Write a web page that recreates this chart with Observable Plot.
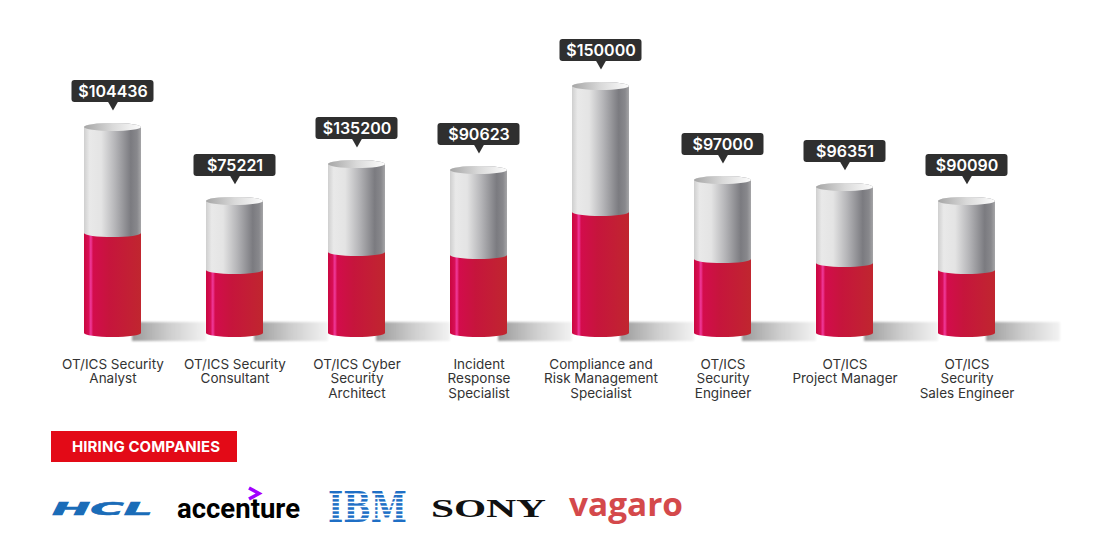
<!DOCTYPE html>
<html>
<head>
<meta charset="utf-8">
<script src="https://cdn.jsdelivr.net/npm/d3@7"></script>
<script src="https://cdn.jsdelivr.net/npm/@observablehq/plot@0.6"></script>
<style>
  html, body { margin: 0; padding: 0; background: #fff; }
  body { width: 1100px; height: 560px; overflow: hidden; position: relative; font-family: Inter, "Open Sans", sans-serif; }
  #chart { position: absolute; left: 0; top: 0; }
  #hiring { position: absolute; left: 51px; top: 431px; width: 186px; height: 31px; background: #e30a17;
            color: #fff; font: 700 15px Inter, "Open Sans", sans-serif; display: flex; align-items: center;
            padding-left: 21px; box-sizing: border-box; letter-spacing: 0.1px; }
  #logos { position: absolute; left: 0; top: 470px; }
</style>
</head>
<body>
<div id="chart"></div>
<div id="hiring">HIRING COMPANIES</div>
<svg id="logos" width="1100" height="70" viewBox="0 470 1100 70">
  <text x="52" y="515" font-family="DejaVu Sans" font-weight="bold" font-style="italic" font-size="18" fill="#1a6cb8" stroke="#1a6cb8" stroke-width="0.6" textLength="101" lengthAdjust="spacingAndGlyphs">HCL</text>
  <text x="177" y="518" font-family="Roboto" font-weight="700" font-size="28" fill="#000" textLength="123" lengthAdjust="spacingAndGlyphs">accenture</text>
  <polyline points="249,488 259,493.5 249,499" fill="none" stroke="#a100ff" stroke-width="3.5"/>
  <text x="328" y="522" font-family="DejaVu Serif" font-weight="bold" font-size="42" fill="#1f6fc5" textLength="79" lengthAdjust="spacingAndGlyphs">IBM</text>
  <g fill="#fff">
    <rect x="324" y="493.5" width="90" height="1.5"/>
    <rect x="324" y="497.6" width="90" height="1.5"/>
    <rect x="324" y="501.6" width="90" height="1.5"/>
    <rect x="324" y="505.7" width="90" height="1.5"/>
    <rect x="324" y="509.8" width="90" height="1.5"/>
    <rect x="324" y="513.9" width="90" height="1.5"/>
    <rect x="324" y="517.9" width="90" height="1.5"/>
  </g>
  <text x="431" y="517" font-family="Liberation Serif" font-weight="bold" font-size="26" fill="#111" textLength="115" lengthAdjust="spacingAndGlyphs">SONY</text>
  <text x="569" y="516" font-family="Open Sans" font-weight="700" font-size="32" fill="#d4494b" textLength="114" lengthAdjust="spacingAndGlyphs">vagaro</text>
</svg>
<script>
// ---- data ----
const roles = [
  "OT/ICS Security Analyst",
  "OT/ICS Security Consultant",
  "OT/ICS Cyber Security Architect",
  "Incident Response Specialist",
  "Compliance and Risk Management Specialist",
  "OT/ICS Security Engineer",
  "OT/ICS Project Manager",
  "OT/ICS Security Sales Engineer"
];
const roleLabels = [
  "OT/ICS Security\nAnalyst",
  "OT/ICS Security\nConsultant",
  "OT/ICS Cyber\nSecurity\nArchitect",
  "Incident\nResponse\nSpecialist",
  "Compliance and\nRisk Management\nSpecialist",
  "OT/ICS\nSecurity\nEngineer",
  "OT/ICS\nProject Manager",
  "OT/ICS\nSecurity\nSales Engineer"
];
const salaries = [104436, 75221, 135200, 90623, 150000, 97000, 96351, 90090];
// drawn cylinder height and red fill level, as shown in the picture (same $ scale)
const cylinderLevel = [125100, 80200, 102600, 99000, 150000, 92900, 88700, 80200];
const redLevel = [60700, 38300, 49200, 47400, 73500, 44900, 42500, 38300];

const data = roles.map((role, i) => ({
  role, label: roleLabels[i], salary: salaries[i], level: cylinderLevel[i], red: redLevel[i]
}));

const R = 28.5;
const font = 'Inter, "Open Sans", sans-serif';

const plot = Plot.plot({
  width: 1100,
  height: 420,
  marginLeft: 83,
  marginRight: 104,
  marginTop: 86,
  marginBottom: 87,
  style: { fontFamily: font, background: "#fff", overflow: "visible" },
  x: { type: "band", domain: roles, paddingInner: 0.534, paddingOuter: 0, axis: null },
  y: { domain: [0, 150000], axis: null },
  marks: [
    // floor shadow
    Plot.barY(data, { x: "role", y1: 0, y2: 0, dx: 48, insetRight: -17, insetTop: -11, insetBottom: -8, fill: "url(#shadowGrad)" }),
    // red lower body
    Plot.barY(data, { x: "role", y1: 0, y2: "red", insetTop: -4, insetBottom: -4, rx: R, ry: 4, fill: "url(#redGrad)" }),
    // grey upper body
    Plot.barY(data, { x: "role", y1: "red", y2: "level", insetTop: -4, insetBottom: -4, rx: R, ry: 4, fill: "url(#greyGrad)" }),
    // top cap
    Plot.barY(data, { x: "role", y1: "level", y2: "level", insetTop: -4, insetBottom: -4, rx: R, ry: 4, fill: "url(#capGrad)" }),
    // value bubbles
    Plot.barY(data, { x: "role", y1: "level", y2: "level", insetTop: -47, insetBottom: 25, insetLeft: -12.5, insetRight: -12.5, rx: 3, fill: "#2f2f2f" }),
    Plot.dot(data, { x: "role", y: "level", dy: -24, symbol: "triangle", r: 4.45, rotate: 180, fill: "#2f2f2f" }),
    Plot.text(data, { x: "role", y: "level", dy: -36, text: d => "$" + d.salary, fill: "#fff", fontSize: 16, fontWeight: 600 }),
    // category labels
    Plot.text(data, { x: "role", y: d => 0, text: "label", dy: 25, lineAnchor: "top", lineHeight: 1.08, fontSize: 13.5, fill: "#333" })
  ]
});

const svg = d3.select(plot);
const defs = svg.insert("defs", ":first-child");
function lin(id, stops, vertical) {
  const g = defs.append("linearGradient").attr("id", id)
    .attr("x1", 0).attr("y1", 0).attr("x2", vertical ? 0 : 1).attr("y2", vertical ? 1 : 0);
  for (const [o, c, a] of stops) g.append("stop").attr("offset", o).attr("stop-color", c).attr("stop-opacity", a ?? 1);
}
lin("greyGrad", [[0, "#cfcfcf"], [0.1, "#e9e9e9"], [0.3, "#e4e4e4"], [0.55, "#b4b4b7"], [0.82, "#7b7b80"], [0.93, "#88888c"], [1, "#a5a5a7"]]);
lin("capGrad", [[0, "#a6a6a6"], [0.5, "#d9d9d9"], [1, "#fdfdfd"]]);
lin("redGrad", [[0, "#c9073f"], [0.08, "#d80f55"], [0.12, "#f03a9c"], [0.16, "#d30c4c"], [0.45, "#c6153c"], [1, "#c0262f"]]);
lin("shadowGrad", [[0, "#9a9a9a"], [0.5, "#cdcdcd"], [1, "#f3f3f3"]]);
const filt = defs.append("filter").attr("id", "soft").attr("x", "-10%").attr("y", "-50%").attr("width", "120%").attr("height", "200%");
filt.append("feGaussianBlur").attr("stdDeviation", 1.3);
const firstBar = svg.selectAll("g[aria-label='bar']").nodes()[0];
if (firstBar) d3.select(firstBar).attr("filter", "url(#soft)");

document.getElementById("chart").appendChild(plot);
</script>
</body>
</html>
